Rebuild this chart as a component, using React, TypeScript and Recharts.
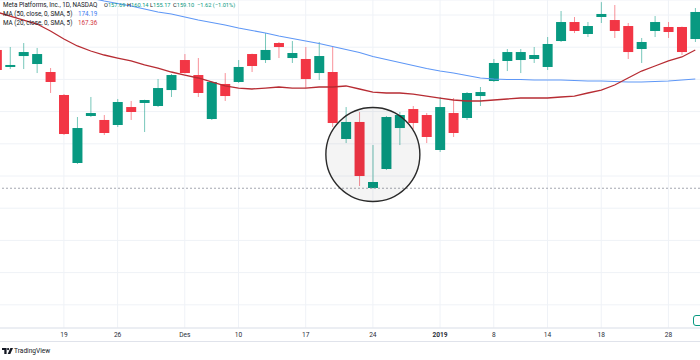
import React from 'react';
import { ComposedChart, Bar, Line, XAxis, YAxis, CartesianGrid, ReferenceLine, ReferenceDot } from 'recharts';

// daily bars, Nov 12 2018 .. Jan 30 2019
const dates = [
  '2018-11-12', '2018-11-13', '2018-11-14', '2018-11-15', '2018-11-16', '2018-11-19', '2018-11-20', '2018-11-21',
  '2018-11-23', '2018-11-26', '2018-11-27', '2018-11-28', '2018-11-29', '2018-11-30',
  '2018-12-03', '2018-12-04', '2018-12-06', '2018-12-07', '2018-12-10', '2018-12-11', '2018-12-12', '2018-12-13',
  '2018-12-14', '2018-12-17', '2018-12-18', '2018-12-19', '2018-12-20', '2018-12-21', '2018-12-24', '2018-12-26',
  '2018-12-27', '2018-12-28', '2018-12-31',
  '2019-01-02', '2019-01-03', '2019-01-04', '2019-01-07', '2019-01-08', '2019-01-09', '2019-01-10', '2019-01-11',
  '2019-01-14', '2019-01-15', '2019-01-16', '2019-01-17', '2019-01-18', '2019-01-22', '2019-01-23', '2019-01-24',
  '2019-01-25', '2019-01-28', '2019-01-29', '2019-01-30',
];

const opens = [
  144.57, 141.93, 143.63, 142.39, 141.15, 137.58, 127.02, 134.32, 133.7, 132.92, 135.71, 136.34, 135.87, 138.35,
  143.01, 140.68, 133.85, 139.29, 139.6, 143.94, 143.01, 145.65, 143.32, 143.17, 140.99, 141.15, 130.75, 133.39,
  123.14, 126.09, 132.45, 135.4, 134.47, 129.04, 134.78, 134.01, 137.42, 139.75, 142.86, 143.01, 143.17, 141.93,
  145.96, 148.91, 147.05, 149.69, 149.22, 148.29, 144.72, 147.52, 148.14, 148.14, 146.27,
];
const highs = [
  145.03, 145.03, 145.65, 144.88, 141.77, 137.73, 134.16, 137.27, 134.47, 136.96, 136.65, 136.85, 140.06, 140.84,
  143.94, 143.32, 139.75, 140.99, 143.01, 144.0, 147.2, 145.81, 145.96, 145.03, 145.81, 145.03, 135.71, 134.94,
  129.81, 134.32, 134.94, 135.87, 134.78, 137.27, 137.11, 138.04, 138.82, 143.17, 144.72, 144.72, 145.03, 146.58,
  150.62, 149.69, 148.91, 152.0, 151.55, 148.76, 146.43, 149.84, 148.91, 148.2, 151.09,
];
const lows = [
  141.15, 141.61, 141.61, 140.99, 137.89, 131.37, 126.86, 134.16, 131.37, 132.61, 133.7, 131.83, 135.71, 137.27,
  140.92, 137.27, 133.7, 136.65, 139.44, 141.15, 142.55, 143.32, 142.55, 138.66, 139.91, 132.61, 130.12, 123.45,
  123.06, 125.93, 129.81, 132.3, 130.12, 128.73, 131.06, 133.7, 135.87, 139.6, 141.3, 140.99, 142.55, 141.46,
  145.81, 147.2, 146.58, 148.76, 146.43, 143.17, 142.55, 146.58, 146.43, 143.79, 145.81,
];
const closes = [
  141.46, 142.24, 144.25, 143.94, 139.6, 131.52, 132.45, 134.78, 131.68, 136.49, 134.94, 136.8, 138.66, 140.68,
  140.99, 137.89, 139.6, 137.42, 141.93, 142.08, 144.57, 145.03, 144.1, 140.06, 143.63, 133.23, 133.39, 125.0,
  124.07, 134.16, 134.47, 133.23, 131.06, 135.71, 131.68, 137.89, 138.04, 142.55, 144.25, 144.25, 143.79, 145.5,
  148.91, 147.52, 148.29, 150.16, 147.52, 144.25, 145.81, 148.91, 147.36, 144.25, 150.47,
];

const ma50 = [
  155.59, 155.12, 154.66, 154.35, 153.88, 153.42, 153.03, 152.64, 152.17, 151.79, 151.4, 150.93, 150.47, 150.16,
  149.69, 149.22, 148.84, 148.45, 147.98, 147.59, 147.2, 146.74, 146.35, 145.96, 145.57, 145.11, 144.64, 144.18,
  143.56, 143.09, 142.62, 142.16, 141.69, 141.3, 140.99, 140.61, 140.22, 140.06, 139.98, 139.98, 139.91, 139.91,
  139.91, 139.83, 139.75, 139.75, 139.67, 139.6, 139.6, 139.67, 139.75, 139.91, 140.06,
];
const ma20 = [
  150.47, 149.84, 149.22, 148.6, 147.52, 146.27, 145.19, 144.41, 143.79, 143.32, 142.86, 142.24, 141.77, 141.15,
  140.68, 140.22, 139.6, 138.98, 138.66, 138.51, 138.66, 138.82, 138.66, 138.66, 138.82, 138.82, 138.98, 138.51,
  138.04, 137.89, 137.89, 137.73, 137.42, 137.11, 136.8, 136.65, 136.65, 136.8, 136.96, 137.11, 137.11, 137.11,
  137.27, 137.42, 137.89, 138.35, 139.13, 140.22, 141.3, 142.08, 142.86, 143.48, 144.57,
];

const tickDates = [
  '2018-11-19', '2018-11-26', '2018-12-03', '2018-12-10', '2018-12-17', '2018-12-24',
  '2019-01-02', '2019-01-08', '2019-01-14', '2019-01-18', '2019-01-28',
];
const tickLabels = ['19', '26', 'Des', '10', '17', '24', '2019', '8', '14', '18', '28'];
const priceTicks = [
  102.5, 105, 107.5, 110, 112.5, 115, 117.5, 120, 122.5, 125, 127.5, 130, 132.5, 135, 137.5, 140, 142.5, 145,
  147.5, 150,
];

const UP = '#089981';
const DOWN = '#f23645';
const TEXT = '#131722';
const FONT = 'Roboto, "Liberation Sans", sans-serif';

const rows = dates.map((d, i) => ({
  d,
  o: opens[i],
  h: highs[i],
  l: lows[i],
  c: closes[i],
  ma50: ma50[i],
  ma20: ma20[i],
}));

const Candle = (props: any) => {
  const { x, y, width, height, payload } = props;
  const top = Math.min(y, y + height);
  const h = Math.abs(height);
  const span = payload.h - payload.l || 1;
  const py = (p: number) => top + ((payload.h - p) / span) * h;
  const color = payload.c >= payload.o ? UP : DOWN;
  const cx = x + width / 2;
  const bTop = py(Math.max(payload.o, payload.c));
  const bBot = py(Math.min(payload.o, payload.c));
  return (
    <g>
      <line x1={cx} x2={cx} y1={top} y2={top + h} stroke={color} strokeOpacity={0.55} strokeWidth={1} />
      <rect x={cx - 5} y={bTop} width={10} height={Math.max(bBot - bTop, 1.2)} fill={color} />
    </g>
  );
};

const TimeTick = (props: any) => {
  const { x, y, payload } = props;
  const idx = tickDates.indexOf(payload.value);
  const label = idx >= 0 ? tickLabels[idx] : '';
  return (
    <text
      x={x}
      y={y + 9}
      textAnchor="middle"
      fontSize={6.6}
      fontFamily={FONT}
      fontWeight={label === '2019' ? 700 : 400}
      fill="#2a2e39"
    >
      {label}
    </text>
  );
};

const textStyle: React.CSSProperties = {
  position: 'absolute',
  fontFamily: FONT,
  fontSize: 6.3,
  lineHeight: '7px',
  whiteSpace: 'nowrap',
  color: TEXT,
};

const Ohlc = ({ left, k, v }: { left: number; k: string; v: string }) => (
  <span style={{ ...textStyle, left, top: 2, fontSize: 5.7 }}>
    {k}
    <span style={{ color: UP }}>{v}</span>
  </span>
);

export default function App() {
  return (
    <div
      style={{
        position: 'absolute',
        left: 0,
        top: 0,
        width: 700,
        height: 360,
        overflow: 'hidden',
        background: '#ffffff',
      }}
    >
      <div style={{ position: 'absolute', left: -10, top: 0 }}>
        <ComposedChart width={712} height={342} data={rows} margin={{ top: 0, right: 0, bottom: 0, left: 0 }}>
          <CartesianGrid stroke="#eff2f7" strokeWidth={1} />
          <XAxis
            dataKey="d"
            type="category"
            ticks={tickDates}
            interval={0}
            height={14}
            tickSize={0}
            tickMargin={0}
            tickLine={false}
            axisLine={{ stroke: '#e0e3eb' }}
            tick={<TimeTick />}
          />
          <YAxis hide type="number" domain={[101.4, 152.33]} ticks={priceTicks} allowDataOverflow />
          <ReferenceLine y={123.1} stroke="#a3a6af" strokeDasharray="2 2" strokeWidth={1} />
          <ReferenceDot
            x="2018-12-24"
            y={128.34}
            r={47}
            fill="rgba(0,0,0,0.045)"
            stroke="#2a2a2a"
            strokeWidth={1.4}
          />
          <Bar dataKey={(r: any) => [r.l, r.h]} shape={<Candle />} isAnimationActive={false} />
          <Line
            type="linear"
            dataKey="ma50"
            stroke="#5e97f6"
            strokeWidth={1.1}
            dot={false}
            activeDot={false}
            isAnimationActive={false}
          />
          <Line
            type="linear"
            dataKey="ma20"
            stroke="#b72c33"
            strokeWidth={1.3}
            dot={false}
            activeDot={false}
            isAnimationActive={false}
          />
        </ComposedChart>
      </div>

      {/* legend / header */}
      <span style={{ ...textStyle, left: 3, top: 2 }}>Meta Platforms, Inc., 1D, NASDAQ</span>
      <Ohlc left={104} k="O" v="157.69" />
      <Ohlc left={127} k="H" v="160.14" />
      <Ohlc left={150} k="L" v="155.17" />
      <Ohlc left={173} k="C" v="159.10" />
      <span style={{ ...textStyle, left: 197, top: 2, fontSize: 5.7, color: UP }}>−1.62 (−1.01%)</span>
      <span style={{ ...textStyle, left: 3, top: 11 }}>MA (50, close, 0, SMA, 5)</span>
      <span style={{ ...textStyle, left: 78, top: 11, color: '#3d7cf0' }}>174.19</span>
      <span style={{ ...textStyle, left: 3, top: 20 }}>MA (20, close, 0, SMA, 5)</span>
      <span style={{ ...textStyle, left: 78, top: 20, color: '#d33b45' }}>167.36</span>

      {/* earnings marker at right edge */}
      <div
        style={{
          position: 'absolute',
          left: 693,
          top: 315,
          width: 9,
          height: 9,
          border: `1.3px solid ${UP}`,
          borderRadius: 3,
          background: '#fff',
        }}
      />

      {/* bottom border of time scale */}
      <div style={{ position: 'absolute', left: 0, top: 341, width: 700, height: 1, background: '#e0e3eb' }} />

      {/* TradingView mark */}
      <svg style={{ position: 'absolute', left: 2, top: 348 }} width={11} height={6}>
        <path d="M0 0h4.6v6H2.3V2H0z" fill={TEXT} />
        <circle cx={6.1} cy={1.1} r={1.1} fill={TEXT} />
        <path d="M8.4 0H11L8.3 6H5.7z" fill={TEXT} />
      </svg>
      <span style={{ ...textStyle, left: 14, top: 347.5, fontSize: 6.6 }}>TradingView</span>
    </div>
  );
}
